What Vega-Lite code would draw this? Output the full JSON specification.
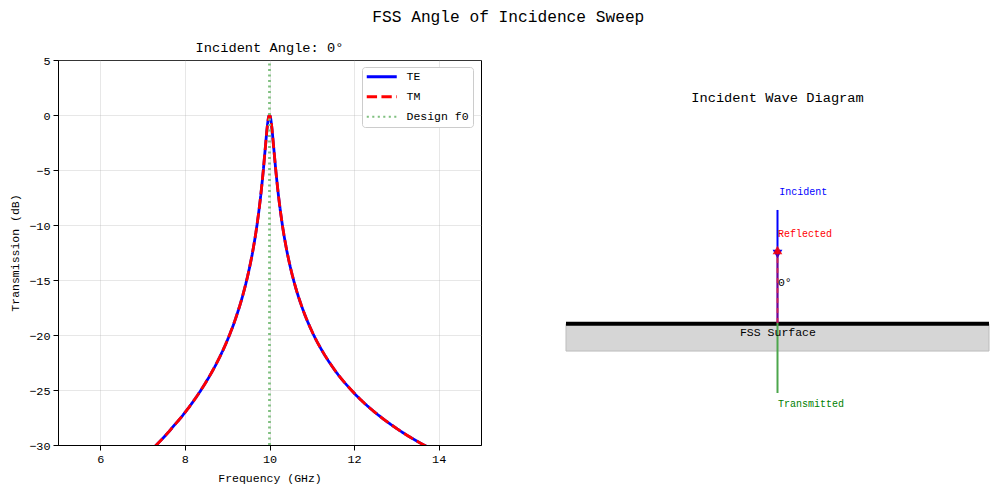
{
  "$schema": "https://vega.github.io/schema/vega-lite/v6.json",
  "autosize": {"type": "pad"},
  "padding": {"left": 9, "top": 8, "right": 5, "bottom": 5},
  "title": {"text": "FSS Angle of Incidence Sweep", "font": "Liberation Mono", "fontSize": 16.2, "fontWeight": "normal", "color": "#000000", "anchor": "middle", "offset": 16, "dx": 5},
  "datasets": {
    "curve": [
      {"series": "TE", "freq": 7.3, "db": -30.1}, {"series": "TE", "freq": 7.5, "db": -29.3}, {"series": "TE", "freq": 7.6, "db": -28.88}, {"series": "TE", "freq": 7.75, "db": -28.2}, {"series": "TE", "freq": 7.9, "db": -27.54}, {"series": "TE", "freq": 8, "db": -27.05}, {"series": "TE", "freq": 8.1, "db": -26.55},
      {"series": "TE", "freq": 8.25, "db": -25.75}, {"series": "TE", "freq": 8.5, "db": -24.27}, {"series": "TE", "freq": 8.75, "db": -22.56}, {"series": "TE", "freq": 9, "db": -20.51},
      {"series": "TE", "freq": 9.2, "db": -18.49}, {"series": "TE", "freq": 9.4, "db": -15.94}, {"series": "TE", "freq": 9.5, "db": -14.36}, {"series": "TE", "freq": 9.6, "db": -12.47},
      {"series": "TE", "freq": 9.7, "db": -10.12}, {"series": "TE", "freq": 9.8, "db": -7.06}, {"series": "TE", "freq": 9.85, "db": -5.17}, {"series": "TE", "freq": 9.9, "db": -3.03},
      {"series": "TE", "freq": 9.95, "db": -0.97}, {"series": "TE", "freq": 9.98, "db": -0.16}, {"series": "TE", "freq": 10, "db": 0}, {"series": "TE", "freq": 10.02, "db": -0.16},
      {"series": "TE", "freq": 10.05, "db": -0.96}, {"series": "TE", "freq": 10.1, "db": -2.99}, {"series": "TE", "freq": 10.15, "db": -5.07}, {"series": "TE", "freq": 10.2, "db": -6.92},
      {"series": "TE", "freq": 10.3, "db": -9.89}, {"series": "TE", "freq": 10.4, "db": -12.15}, {"series": "TE", "freq": 10.5, "db": -13.95}, {"series": "TE", "freq": 10.6, "db": -15.44},
      {"series": "TE", "freq": 10.8, "db": -17.8}, {"series": "TE", "freq": 11, "db": -19.64}, {"series": "TE", "freq": 11.25, "db": -21.47}, {"series": "TE", "freq": 11.5, "db": -22.96},
      {"series": "TE", "freq": 12, "db": -25.28}, {"series": "TE", "freq": 12.25, "db": -26.22}, {"series": "TE", "freq": 12.5, "db": -27.05}, {"series": "TE", "freq": 12.75, "db": -27.8}, {"series": "TE", "freq": 13, "db": -28.48}, {"series": "TE", "freq": 13.25, "db": -29.11}, {"series": "TE", "freq": 13.5, "db": -29.68}, {"series": "TE", "freq": 13.7, "db": -30.1},
      {"series": "TM", "freq": 7.3, "db": -30.1}, {"series": "TM", "freq": 7.5, "db": -29.3}, {"series": "TM", "freq": 7.6, "db": -28.88}, {"series": "TM", "freq": 7.75, "db": -28.2}, {"series": "TM", "freq": 7.9, "db": -27.54}, {"series": "TM", "freq": 8, "db": -27.05}, {"series": "TM", "freq": 8.1, "db": -26.55},
      {"series": "TM", "freq": 8.25, "db": -25.75}, {"series": "TM", "freq": 8.5, "db": -24.27}, {"series": "TM", "freq": 8.75, "db": -22.56}, {"series": "TM", "freq": 9, "db": -20.51},
      {"series": "TM", "freq": 9.2, "db": -18.49}, {"series": "TM", "freq": 9.4, "db": -15.94}, {"series": "TM", "freq": 9.5, "db": -14.36}, {"series": "TM", "freq": 9.6, "db": -12.47},
      {"series": "TM", "freq": 9.7, "db": -10.12}, {"series": "TM", "freq": 9.8, "db": -7.06}, {"series": "TM", "freq": 9.85, "db": -5.17}, {"series": "TM", "freq": 9.9, "db": -3.03},
      {"series": "TM", "freq": 9.95, "db": -0.97}, {"series": "TM", "freq": 9.98, "db": -0.16}, {"series": "TM", "freq": 10, "db": 0}, {"series": "TM", "freq": 10.02, "db": -0.16},
      {"series": "TM", "freq": 10.05, "db": -0.96}, {"series": "TM", "freq": 10.1, "db": -2.99}, {"series": "TM", "freq": 10.15, "db": -5.07}, {"series": "TM", "freq": 10.2, "db": -6.92},
      {"series": "TM", "freq": 10.3, "db": -9.89}, {"series": "TM", "freq": 10.4, "db": -12.15}, {"series": "TM", "freq": 10.5, "db": -13.95}, {"series": "TM", "freq": 10.6, "db": -15.44},
      {"series": "TM", "freq": 10.8, "db": -17.8}, {"series": "TM", "freq": 11, "db": -19.64}, {"series": "TM", "freq": 11.25, "db": -21.47}, {"series": "TM", "freq": 11.5, "db": -22.96},
      {"series": "TM", "freq": 12, "db": -25.28}, {"series": "TM", "freq": 12.25, "db": -26.22}, {"series": "TM", "freq": 12.5, "db": -27.05}, {"series": "TM", "freq": 12.75, "db": -27.8}, {"series": "TM", "freq": 13, "db": -28.48}, {"series": "TM", "freq": 13.25, "db": -29.11}, {"series": "TM", "freq": 13.5, "db": -29.68}, {"series": "TM", "freq": 13.7, "db": -30.1},
      {"series": "Design f0", "freq": 10, "db": -30}, {"series": "Design f0", "freq": 10, "db": 5}
    ],
    "band": [{"x": -1, "x2": 1, "y": -0.37, "y2": -0.512}],
    "surface": [{"x": -1, "y": -0.37}, {"x": 1, "y": -0.37}],
    "incident": [{"x": 0, "y": 0.221}, {"x": 0, "y": -0.366}],
    "reflected": [{"x": 0, "y": -0.366}, {"x": 0, "y": 0.01}],
    "transmitted": [{"x": 0, "y": -0.366}, {"x": 0, "y": -0.73}],
    "headDown": [{"x": 0, "y": -0.008}],
    "headUp": [{"x": 0, "y": 0.013}],
    "labels": [
      {"x": 0.008, "y": 0.314, "label": "Incident", "kind": "incident"},
      {"x": 0.002, "y": 0.096, "label": "Reflected", "kind": "reflected"},
      {"x": 0.002, "y": -0.787, "label": "Transmitted", "kind": "transmitted"}
    ],
    "notes": [
      {"x": 0.002, "y": -0.158, "label": "0°"}
    ],
    "surfaceName": [{"x": 0.002, "y": -0.418, "label": "FSS Surface"}]
  },
  "spacing": 75,
  "hconcat": [
    {
      "width": 423,
      "height": 385,
      "title": {"text": "Incident Angle: 0°", "font": "Liberation Mono", "fontSize": 13.7, "fontWeight": "normal", "color": "#000000", "offset": 0},
      "data": {"name": "curve"},
      "mark": {"type": "line", "clip": true, "interpolate": "monotone"},
      "encoding": {
        "x": {
          "field": "freq", "type": "quantitative", "title": "Frequency (GHz)",
          "scale": {"domain": [5, 15], "nice": false},
          "axis": {"values": [6, 8, 10, 12, 14], "format": "d"}
        },
        "y": {
          "field": "db", "type": "quantitative", "title": "Transmission (dB)",
          "scale": {"domain": [-30, 5], "nice": false},
          "axis": {"values": [-30, -25, -20, -15, -10, -5, 0, 5], "format": "d"}
        },
        "order": {"field": "freq"},
        "color": {
          "field": "series", "type": "nominal",
          "scale": {"domain": ["TE", "TM", "Design f0"], "range": ["#0000ff", "#ff0000", "#80c080"]},
          "legend": {
            "orient": "none", "legendX": 304, "legendY": 7, "title": null,
            "fillColor": "#ffffff", "strokeColor": "#cccccc", "cornerRadius": 3, "padding": 4,
            "symbolType": "M-3,0L3,0", "symbolSize": 100, "symbolOffset": 10, "rowPadding": 7, "labelFont": "Liberation Mono", "labelFontSize": 11.5, "labelColor": "#000000", "labelOffset": 19,
            "encoding": {
              "symbols": {
                "strokeDash": {"value": {"signal": "datum.value === 'TM' ? [10.3, 4.4] : datum.value === 'Design f0' ? [2.1, 3.4] : [1, 0]"}},
                "strokeWidth": {"value": {"signal": "datum.value === 'Design f0' ? 2 : 2.8"}}
              }
            }
          }
        },
        "strokeDash": {
          "field": "series", "type": "nominal", "legend": null,
          "scale": {"domain": ["TE", "TM", "Design f0"], "range": [[1, 0], [10.3, 4.4], [2.1, 3.4]]}
        },
        "strokeWidth": {
          "field": "series", "type": "nominal", "legend": null,
          "scale": {"domain": ["TE", "TM", "Design f0"], "range": [2.8, 2.8, 2]}
        }
      }
    },
    {
      "width": 423,
      "height": 385,
      "view": {"stroke": null},
      "title": {"text": "Incident Wave Diagram", "font": "Liberation Mono", "fontSize": 13.7, "fontWeight": "normal", "color": "#000000", "offset": -45},
      "encoding": {
        "x": {"field": "x", "type": "quantitative", "scale": {"domain": [-1, 1], "nice": false}, "axis": null},
        "y": {"field": "y", "type": "quantitative", "scale": {"domain": [-1, 1], "nice": false}, "axis": null}
      },
      "layer": [
        {
          "data": {"name": "band"},
          "mark": {"type": "rect", "fill": "#d6d6d6", "stroke": "#bdbdbd", "strokeWidth": 1},
          "encoding": {"x2": {"field": "x2"}, "y2": {"field": "y2"}}
        },
        {"data": {"name": "surface"}, "mark": {"type": "line", "color": "#000000", "strokeWidth": 4.2}},
        {"data": {"name": "incident"}, "mark": {"type": "line", "color": "#0000ff", "strokeWidth": 2}},
        {"data": {"name": "headDown"}, "mark": {"type": "point", "shape": "triangle-down", "filled": true, "color": "#0000ff", "opacity": 1, "size": 95}},
        {"data": {"name": "reflected"}, "mark": {"type": "line", "color": "#ff0000", "strokeWidth": 2, "opacity": 0.45}},
        {"data": {"name": "reflected"}, "mark": {"type": "line", "color": "#ff3030", "strokeWidth": 2, "opacity": 0.6, "strokeDash": [5, 5]}},
        {"data": {"name": "headUp"}, "mark": {"type": "point", "shape": "triangle-up", "filled": true, "color": "#ff0000", "opacity": 0.85, "size": 95}},
        {"data": {"name": "transmitted"}, "mark": {"type": "line", "color": "#4ca64c", "strokeWidth": 2}},
        {
          "data": {"name": "labels"},
          "mark": {"type": "text", "align": "left", "baseline": "middle", "font": "Liberation Mono", "fontSize": 10},
          "encoding": {
            "text": {"field": "label"},
            "color": {"field": "kind", "type": "nominal", "scale": {"domain": ["incident", "reflected", "transmitted"], "range": ["#0000ff", "#ff0000", "#008000"]}, "legend": null}
          }
        },
        {
          "data": {"name": "notes"},
          "mark": {"type": "text", "align": "left", "baseline": "middle", "font": "Liberation Mono", "fontSize": 11.5, "color": "#000000"},
          "encoding": {"text": {"field": "label"}}
        },
        {
          "data": {"name": "surfaceName"},
          "mark": {"type": "text", "align": "center", "baseline": "middle", "font": "Liberation Mono", "fontSize": 11.5, "color": "#000000"},
          "encoding": {"text": {"field": "label"}}
        }
      ]
    }
  ],
  "resolve": {"scale": {"x": "independent", "y": "independent", "color": "independent"}},
  "config": {
    "background": "#ffffff",
    "view": {"stroke": "#000000", "strokeWidth": 1},
    "axis": {
      "grid": true, "gridColor": "#b0b0b0", "gridOpacity": 0.3, "gridWidth": 1,
      "domainColor": "#000000", "tickColor": "#000000", "tickSize": 5, "tickWidth": 1,
      "labelColor": "#000000", "titleColor": "#000000",
      "labelFont": "Liberation Mono", "titleFont": "Liberation Mono", "labelFontSize": 11.8, "titleFontSize": 11.5, "titleFontWeight": "normal",
      "labelPadding": 3, "titlePadding": 8
    }
  }
}
